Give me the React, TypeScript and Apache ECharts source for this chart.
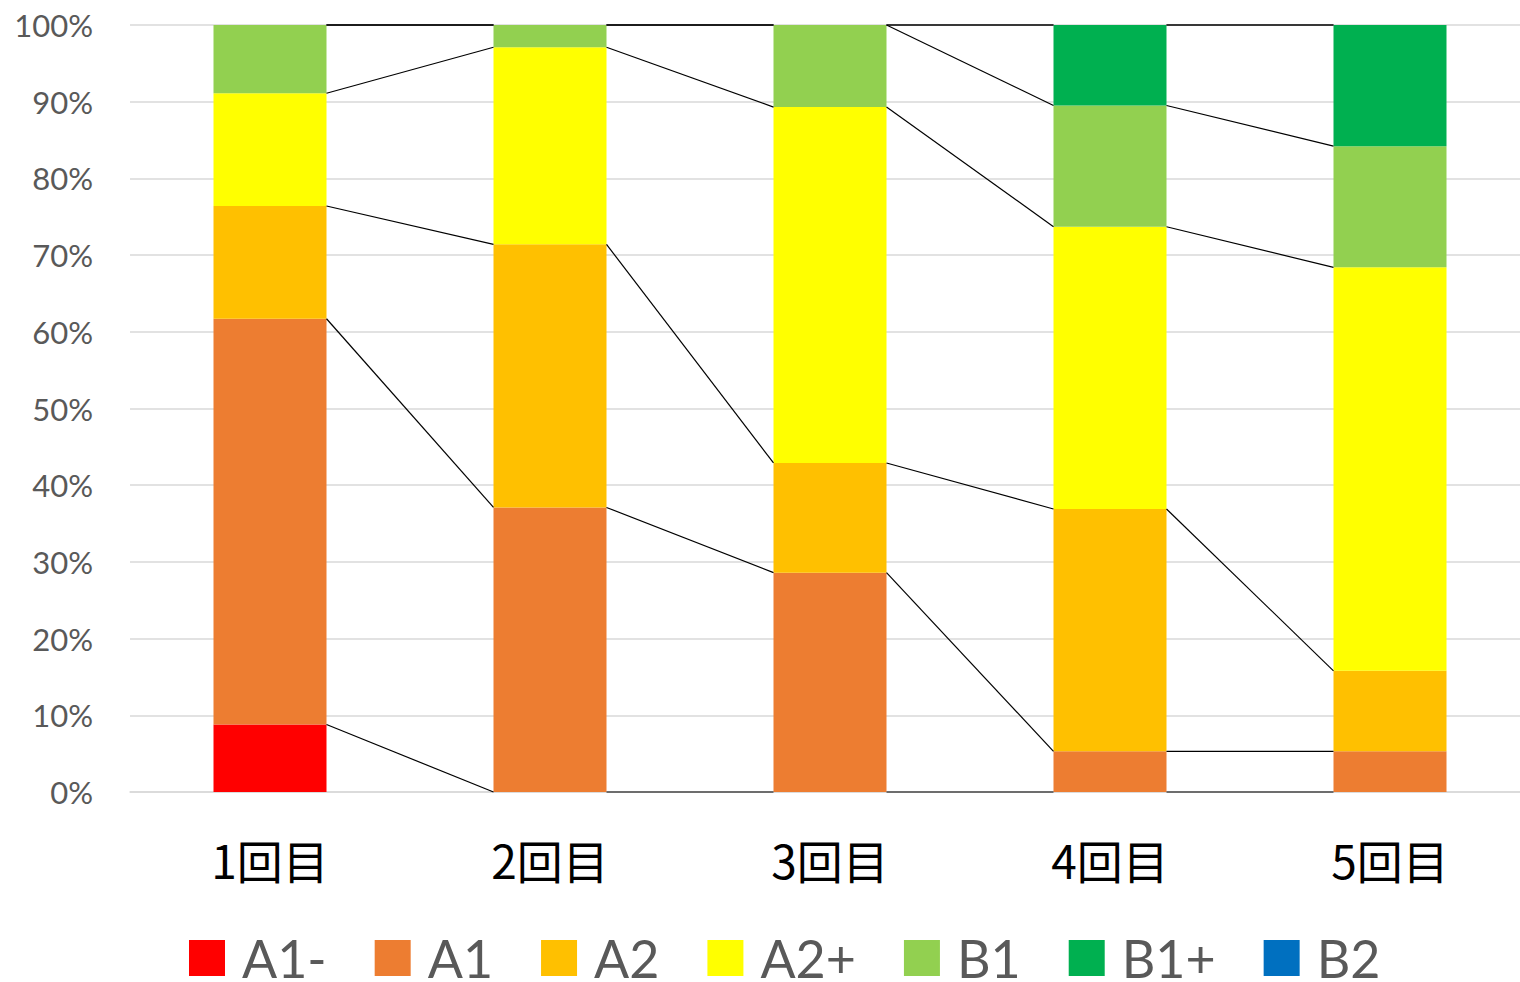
import React, { useEffect, useRef } from "react";
import * as echarts from "echarts";

const categories = ["1回目", "2回目", "3回目", "4回目", "5回目"];
const levels = ["A1-", "A1", "A2", "A2+", "B1", "B1+", "B2"];
const levelColors = ["#FF0000", "#ED7D31", "#FFC000", "#FFFF00", "#92D050", "#00B050", "#0070C0"];

// share of each level per round (%)
const a1Minus = [8.8, 0, 0, 0, 0];
const a1 = [52.9, 37.1, 28.6, 5.3, 5.3];
const a2 = [14.7, 34.3, 14.3, 31.6, 10.5];
const a2Plus = [14.7, 25.7, 46.4, 36.8, 52.6];
const b1 = [8.9, 2.9, 10.7, 15.8, 15.8];
const b1Plus = [0, 0, 0, 10.5, 15.8];
const b2 = [0, 0, 0, 0, 0];

const yTicks = [0, 10, 20, 30, 40, 50, 60, 70, 80, 90, 100];

const BAR_WIDTH = 113;

export default function App() {
  const ref = useRef<HTMLDivElement>(null);

  useEffect(() => {
    if (!ref.current) return;
    const chart = echarts.init(ref.current, undefined, { renderer: "svg" });
    const seriesValues = [a1Minus, a1, a2, a2Plus, b1, b1Plus, b2];

    // running top of each level, used for the connector lines between bars
    const tops: number[][] = [];
    seriesValues.forEach((vals, s) => {
      tops.push(vals.map((v, i) => (s === 0 ? 0 : tops[s - 1][i]) + v));
    });
    const connectorData: number[][] = [];
    tops.forEach((row) => {
      for (let i = 0; i < row.length - 1; i++) {
        connectorData.push([i, Math.min(row[i], 100), Math.min(row[i + 1], 100)]);
      }
    });

    const barSeries = levels.map((name, s) => ({
      name,
      type: "bar",
      stack: "total",
      barWidth: BAR_WIDTH,
      itemStyle: { color: levelColors[s] },
      data: seriesValues[s],
    }));

    chart.setOption({
      animation: false,
      backgroundColor: "#ffffff",
      grid: { left: 130, top: 25, width: 1400, height: 767 },
      legend: {
        left: 189,
        top: 932,
        padding: 0,
        itemWidth: 36,
        itemHeight: 36,
        itemGap: 48,
        icon: "rect",
        data: levels,
        textStyle: {
          fontFamily: "Lato",
          fontSize: 52,
          color: "#595959",
          padding: [0, 0, 0, 12],
        },
      },
      xAxis: {
        type: "category",
        data: categories,
        axisTick: { show: false },
        axisLine: { lineStyle: { color: "#d9d9d9", width: 1.5 } },
        axisLabel: {
          color: "#000000",
          fontFamily: "Noto Sans CJK JP",
          fontSize: 46,
          lineHeight: 46,
          margin: 44,
        },
      },
      yAxis: {
        type: "value",
        min: yTicks[0],
        max: yTicks[yTicks.length - 1],
        interval: 10,
        axisLine: { show: false },
        axisTick: { show: false },
        splitLine: { lineStyle: { color: "#d9d9d9", width: 1.5 } },
        axisLabel: {
          formatter: "{value}%",
          color: "#595959",
          fontFamily: "Lato",
          fontSize: 31,
          margin: 37,
        },
      },
      series: [
        ...barSeries,
        {
          type: "custom",
          silent: true,
          z: 5,
          clip: false,
          encode: { x: 0, y: [1, 2] },
          data: connectorData,
          renderItem: (params: any, api: any) => {
            const i = api.value(0);
            const p1 = api.coord([i, api.value(1)]);
            const p2 = api.coord([i + 1, api.value(2)]);
            const half = BAR_WIDTH / 2;
            return {
              type: "line",
              shape: { x1: p1[0] + half, y1: p1[1], x2: p2[0] - half, y2: p2[1] },
              style: { stroke: "#000000", lineWidth: 1.2 },
            };
          },
        },
      ],
    });

    return () => chart.dispose();
  }, []);

  return (
    <div
      style={{
        position: "absolute",
        left: 0,
        top: 0,
        width: 1520,
        height: 982,
        overflow: "hidden",
      }}
    >
      <div ref={ref} style={{ width: 1530, height: 982 }} />
    </div>
  );
}
